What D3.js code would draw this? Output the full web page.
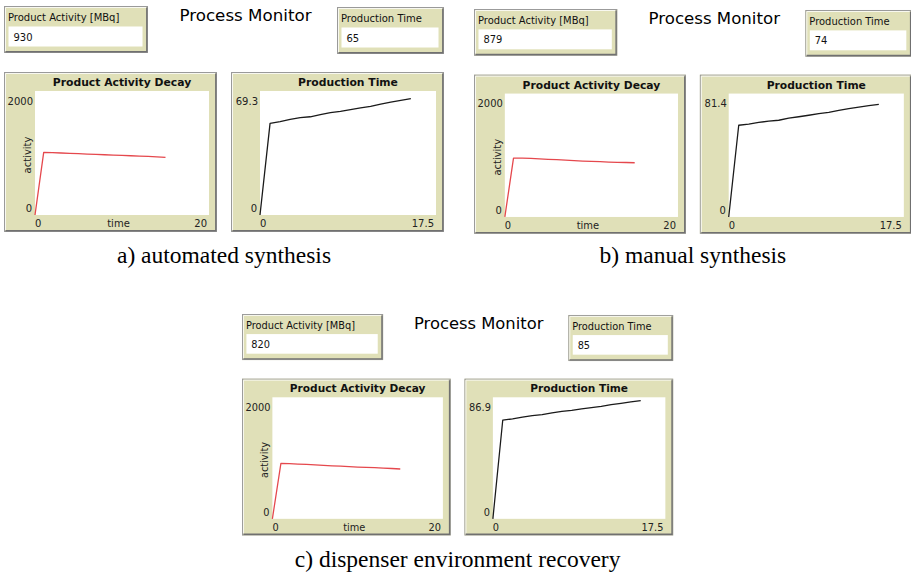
<!DOCTYPE html>
<html><head><meta charset="utf-8">
<script src="https://cdn.jsdelivr.net/npm/d3@7/dist/d3.min.js"></script>
<style>body{margin:0;background:#fff}svg{display:block}</style>
</head><body>
<svg id="chart" width="911" height="575"></svg>
<script>
// ---- data ----
const timeMin = [0,1,2,3,4,5,6,7,8,9,10,11,12,13,14,15];
const activityAutomated = [0,1010,1006,1000,995,990,983,978,972,967,961,956,951,945,939,930];
const activityManual    = [0,955,954,950,941,934,928,921,913,905,900,897,890,886,883,879];
const activityDispenser = [0,912,908,902,895,888,880,873,866,860,852,847,842,835,828,820];
const prodTimeAutomated = [0,51.2,52.2,53.4,54.4,54.9,56.1,57.2,57.9,58.9,59.9,60.7,62.0,63.1,64.0,65.0];
const prodTimeManual    = [0,60.5,61.3,62.4,63.2,63.8,65.2,66.1,67.1,68.2,69.0,70.3,71.5,72.5,73.4,74.3];
const prodTimeDispenser = [0,70.5,71.5,72.8,73.8,74.5,75.7,76.8,77.6,78.7,79.5,80.4,81.6,82.6,83.6,84.5];
const activityYMax = 2000;
const activityXMax = 20;
const prodTimeXMax = 17.5;
const prodTimeYMax = [69.3, 81.4, 86.9];
const monitorActivity = [930, 879, 820];
const monitorProdTime = [65, 74, 85];
const captions = ["a) automated synthesis", "b) manual synthesis", "c) dispenser environment recovery"];
const activitySeries = [activityAutomated, activityManual, activityDispenser];
const prodTimeSeries = [prodTimeAutomated, prodTimeManual, prodTimeDispenser];

// ---- layout ----
const panels = [
  {x:4,   y:6,   s:1.0,   capY:263},
  {x:474, y:9,   s:0.995, capY:263},
  {x:242, y:314, s:0.98,  capY:567}
];
const BEIGE = "#e0e0b8";
const SANS = "'DejaVu Sans', Verdana, sans-serif";
const svg = d3.select("#chart");

function widgetBox(g, x, y, w, h) {
  g.append("rect").attr("x", x).attr("y", y).attr("width", w).attr("height", h).attr("fill", BEIGE);
  g.append("rect").attr("x", x + 0.5).attr("y", y + 0.5).attr("width", w - 1).attr("height", h - 1)
    .attr("fill", "none").attr("stroke", "#9a9a9a");
  g.append("path").attr("d", `M${x+1.5},${y+h-2}V${y+1.5}H${x+w-2}`)
    .attr("fill", "none").attr("stroke", "#f8f8f0");
  g.append("path").attr("d", `M${x+1.5},${y+h-1.2}H${x+w-1.2}V${y+1.5}`)
    .attr("fill", "none").attr("stroke", "#707070").attr("stroke-width", 1.4);
}

function monitor(g, x, y, w, label, value) {
  widgetBox(g, x, y, w, 47);
  g.append("text").attr("x", x + 4).attr("y", y + 15).attr("font-family", SANS).attr("font-size", 10)
    .attr("fill", "#111").text(label);
  g.append("rect").attr("x", x + 4.5).attr("y", y + 20.5).attr("width", w - 10).attr("height", 20).attr("fill", "#fff");
  g.append("text").attr("x", x + 9.5).attr("y", y + 34.5).attr("font-family", SANS).attr("font-size", 10)
    .attr("fill", "#111").text(value);
}

function plot(g, x, y, w, h, o) {
  const pg = g.append("g").attr("transform", `translate(${x},${y})`);
  widgetBox(pg, 0, 0, w, h);
  const top = 19, ph = 124, pl = o.ml, pw = w - o.ml - 8;
  pg.append("rect").attr("x", pl).attr("y", top).attr("width", pw).attr("height", ph).attr("fill", "#fff");
  const xs = d3.scaleLinear().domain([0, o.xMax]).range([pl, pl + pw]);
  const ys = d3.scaleLinear().domain([0, o.yMax]).range([top + ph, top]);
  pg.append("text").attr("x", pl + pw / 2).attr("y", 14).attr("text-anchor", "middle")
    .attr("font-family", SANS).attr("font-weight", "bold").attr("font-size", 10.8).attr("fill", "#111").text(o.title);
  const lab = (tx, ty, anchor, t) => pg.append("text").attr("x", tx).attr("y", ty).attr("text-anchor", anchor)
    .attr("font-family", SANS).attr("font-size", 10).attr("fill", "#222").text(t);
  lab(xs(0) - 2, ys(o.yMax) + 14, "end", o.yMaxLabel);
  lab(xs(0) - 3, ys(0) - 3, "end", "0");
  const xb = top + ph + 12;
  lab(xs(0), xb, "start", "0");
  lab(xs(o.xMax) - 2, xb, "end", o.xMaxLabel);
  if (o.xLabel) {
    lab((xs(0) + 6 + xs(o.xMax) - 13) / 2, xb, "middle", o.xLabel);
  }
  if (o.yLabel) {
    pg.append("text").attr("transform", `translate(${pl - 4},${(ys(o.yMax) + 14 + ys(0) - 10) / 2}) rotate(-90)`)
      .attr("text-anchor", "middle").attr("font-family", SANS).attr("font-size", 10).attr("fill", "#222").text(o.yLabel);
  }
  const line = d3.line().x((d, i) => xs(o.xs[i])).y(d => ys(d));
  pg.append("path").datum(o.values).attr("d", line).attr("fill", "none")
    .attr("stroke", o.color).attr("stroke-width", 1.3).attr("stroke-linejoin", "round");
}

panels.forEach((p, i) => {
  const g = svg.append("g").attr("transform", `translate(${p.x},${p.y}) scale(${p.s})`);
  monitor(g, 0, 0, 144, "Product Activity [MBq]", monitorActivity[i]);
  g.append("text").attr("x", 241.5).attr("y", 15).attr("text-anchor", "middle")
    .attr("font-family", SANS).attr("font-size", 16.7).attr("fill", "#000").text("Process Monitor");
  monitor(g, 333, 1, 107, "Production Time", monitorProdTime[i]);
  plot(g, 0, 66, 213, 160, {title: "Product Activity Decay", xMax: activityXMax, yMax: activityYMax,
    yMaxLabel: String(activityYMax), xMaxLabel: String(activityXMax), xLabel: "time", yLabel: "activity",
    ml: 31, color: "#e5484d", xs: timeMin, values: activitySeries[i]});
  plot(g, 227, 66, 213, 160, {title: "Production Time", xMax: prodTimeXMax, yMax: prodTimeYMax[i],
    yMaxLabel: String(prodTimeYMax[i]), xMaxLabel: String(prodTimeXMax),
    ml: 29, color: "#1a1a1a", xs: timeMin, values: prodTimeSeries[i]});
  svg.append("text").attr("x", p.x + 220 * p.s).attr("y", p.capY).attr("text-anchor", "middle")
    .attr("font-family", "'Liberation Serif', 'Times New Roman', serif").attr("font-size", 23.5)
    .attr("fill", "#000").text(captions[i]);
});
</script>
</body></html>
